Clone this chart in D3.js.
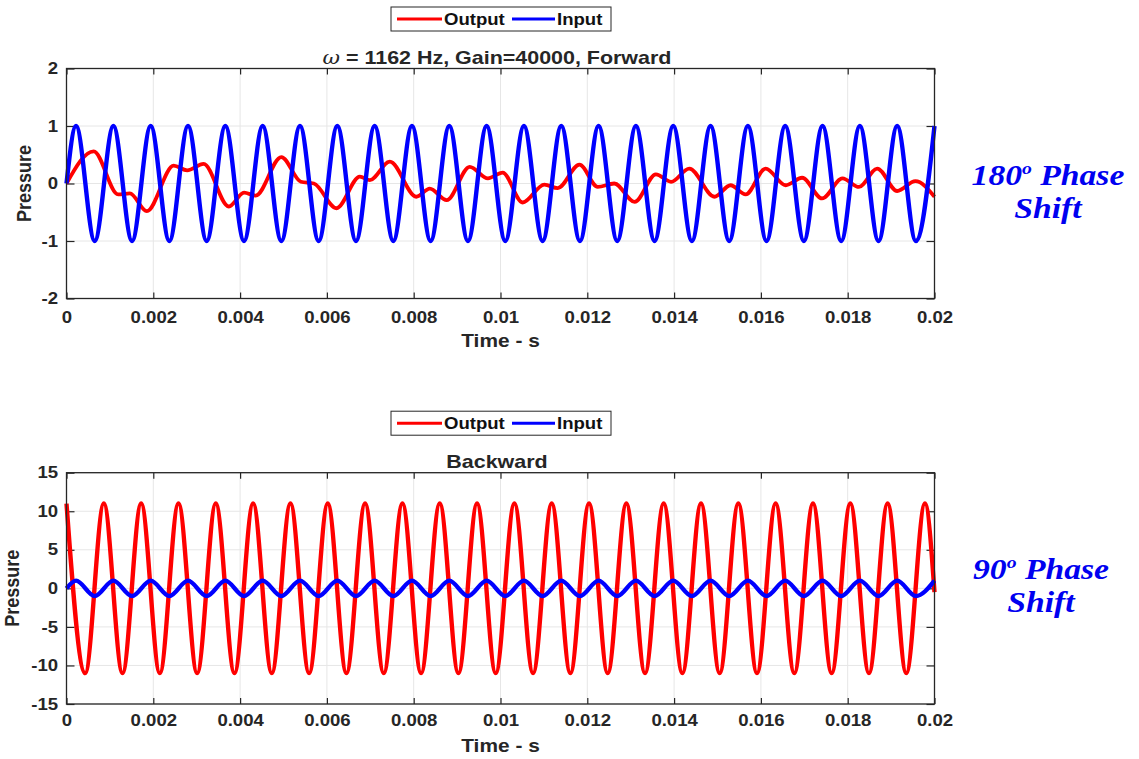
<!DOCTYPE html>
<html>
<head>
<meta charset="utf-8">
<script src="https://cdn.jsdelivr.net/npm/d3@7"></script>
<style>
body { margin: 0; background: #fff; }
</style>
</head>
<body>
<svg width="1139" height="759"></svg>
<script>
var timeTicks = [0, 0.002, 0.004, 0.006, 0.008, 0.01, 0.012, 0.014, 0.016, 0.018, 0.02];
var forwardYTicks = [-2, -1, 0, 1, 2];
var backwardYTicks = [-15, -10, -5, 0, 5, 10, 15];
var legendNames = ["Output", "Input"];

// input signal, same in both panels: times of crests and troughs (amplitude 1)
var inputPeakT = [0.00022, 0.00108, 0.00194, 0.0028, 0.00366, 0.00452, 0.00538, 0.00624,
	0.0071, 0.00796, 0.00882, 0.00968, 0.01054, 0.0114, 0.01226, 0.01312, 0.01398, 0.01484,
	0.0157, 0.01656, 0.01742, 0.01828, 0.01914, 0.02];
var inputTroughT = [0.00065, 0.00151, 0.00237, 0.00323, 0.00409, 0.00495, 0.00581, 0.00667,
	0.00753, 0.00839, 0.00925, 0.01011, 0.01097, 0.01183, 0.01269, 0.01355, 0.01441, 0.01527,
	0.01613, 0.01699, 0.01785, 0.01871, 0.01957];
var inputAmp = 1;

// forward output: turning points
var fwdOutT = [0, 0.000626, 0.00119, 0.00146, 0.00185, 0.00247, 0.00278, 0.00316, 0.00374,
	0.00409, 0.00436, 0.00495, 0.0054, 0.0057, 0.00622, 0.00676, 0.00699, 0.00745, 0.00806,
	0.00837, 0.00876, 0.00929, 0.00971, 0.01005, 0.01051, 0.01101, 0.01132, 0.01182, 0.01224,
	0.01262, 0.01309, 0.01358, 0.01393, 0.01435, 0.01493, 0.0153, 0.01565, 0.01611, 0.01657,
	0.01695, 0.01741, 0.01788, 0.01826, 0.01868, 0.01914, 0.01956, 0.02];
var fwdOutV = [0, 0.56, -0.19, -0.17, -0.48, 0.31, 0.23, 0.34, -0.40,
	-0.16, -0.21, 0.46, 0.03, 0.0, -0.43, 0.12, 0.06, 0.38, -0.23,
	-0.09, -0.29, 0.29, 0.09, 0.19, -0.33, -0.02, -0.08, 0.33, -0.06,
	0.0, -0.32, 0.16, 0.03, 0.26, -0.23, -0.03, -0.19, 0.26, -0.03,
	0.10, -0.26, 0.09, -0.06, 0.26, -0.13, 0.04, -0.23];

// backward output: crests and troughs (amplitude 11), ends near zero
var bwdOutPeakT = [0, 0.00086, 0.00172, 0.00258, 0.00344, 0.0043, 0.00516, 0.00602, 0.00688,
	0.00774, 0.0086, 0.00946, 0.01032, 0.01118, 0.01204, 0.0129, 0.01376, 0.01462, 0.01548,
	0.01634, 0.0172, 0.01806, 0.01892, 0.01978];
var bwdOutTroughT = [0.00043, 0.00129, 0.00215, 0.00301, 0.00387, 0.00473, 0.00559, 0.00645,
	0.00731, 0.00817, 0.00903, 0.00989, 0.01075, 0.01161, 0.01247, 0.01333, 0.01419, 0.01505,
	0.01591, 0.01677, 0.01763, 0.01849, 0.01935];
var bwdOutAmp = 11;
var bwdOutEndV = -0.5;

var SX = 1.16;   // the picture is stretched sideways a bit
var FONT = "'Liberation Sans', Arial, sans-serif";
var INK = "#262626";

var svg = d3.select("svg");
var x0 = 66.5, x1 = 934.5;

function extremaSeries(peaks, troughs, amp, startV, endV) {
	var pts = peaks.map(function (t) { return {t: t, v: amp}; })
		.concat(troughs.map(function (t) { return {t: t, v: -amp}; }));
	if (peaks[0] !== 0 && troughs[0] !== 0) pts.push({t: 0, v: startV});
	var last = Math.max(d3.max(peaks), d3.max(troughs));
	if (last < 0.02) pts.push({t: 0.02, v: endV});
	return pts.sort(function (a, b) { return a.t - b.t; });
}

function stext(parent, x, y, str, size, anchor) {
	return parent.append("g")
		.attr("transform", "translate(" + x + "," + y + ") scale(" + SX + ",1)")
		.append("text")
		.attr("text-anchor", anchor || "middle")
		.attr("font-family", FONT)
		.attr("font-weight", "bold")
		.attr("font-size", size)
		.attr("fill", INK)
		.text(str);
}

function drawPanel(p) {
	var x = d3.scaleLinear().domain([0, 0.02]).range([x0, x1]);
	var y = d3.scaleLinear().domain(p.yDomain).range([p.bottom, p.top]);
	var g = svg.append("g");

	// grid
	g.selectAll(".vgrid").data(timeTicks).enter().append("line")
		.attr("x1", x).attr("x2", x)
		.attr("y1", p.top).attr("y2", p.bottom)
		.attr("stroke", "#e6e6e6").attr("stroke-width", 1);
	g.selectAll(".hgrid").data(p.yTicks).enter().append("line")
		.attr("x1", x0).attr("x2", x1)
		.attr("y1", y).attr("y2", y)
		.attr("stroke", "#e6e6e6").attr("stroke-width", 1);

	// axes, ticks point inward
	var xb = g.append("g").attr("transform", "translate(0," + p.bottom + ")")
		.call(d3.axisBottom(x).tickValues(timeTicks).tickSizeInner(-6).tickSizeOuter(0)
			.tickPadding(p.xPad).tickFormat(function (d) { return String(d); }));
	var xt = g.append("g").attr("transform", "translate(0," + p.top + ")")
		.call(d3.axisTop(x).tickValues(timeTicks).tickSizeInner(-6).tickSizeOuter(0).tickFormat(""));
	var yl = g.append("g").attr("transform", "translate(" + x0 + ",0)")
		.call(d3.axisLeft(y).tickValues(p.yTicks).tickSizeInner(-8).tickSizeOuter(0).tickPadding(7.3)
			.tickFormat(function (d) { return String(d); }));
	var yr = g.append("g").attr("transform", "translate(" + x1 + ",0)")
		.call(d3.axisRight(y).tickValues(p.yTicks).tickSizeInner(-8).tickSizeOuter(0).tickFormat(""));

	[xb, xt, yl, yr].forEach(function (a) {
		a.select(".domain").remove();
		a.selectAll("line").attr("stroke", INK).attr("stroke-width", 1.2);
		a.attr("font-family", FONT).attr("font-size", 16).attr("font-weight", "bold");
		a.selectAll("text").attr("fill", INK).attr("transform", "scale(" + SX + ",1)");
	});

	// series: output first, input drawn on top
	var line = d3.line()
		.x(function (d) { return x(d.t); })
		.y(function (d) { return y(d.v); })
		.curve(d3.curveMonotoneX);
	g.append("path").datum(p.output)
		.attr("d", line).attr("fill", "none")
		.attr("stroke", "#ff0000").attr("stroke-width", p.redWidth)
		.attr("stroke-linejoin", "round");
	g.append("path").datum(p.input)
		.attr("d", line).attr("fill", "none")
		.attr("stroke", "#0000ff").attr("stroke-width", 4.4)
		.attr("stroke-linejoin", "round");

	// box
	g.append("rect")
		.attr("x", x0).attr("y", p.top)
		.attr("width", x1 - x0).attr("height", p.bottom - p.top)
		.attr("fill", "none").attr("stroke", INK).attr("stroke-width", 1.3);

	// labels
	stext(g, (x0 + x1) / 2, p.bottom + 48, "Time - s", 18);
	g.append("g")
		.attr("transform", "translate(" + p.yLabelX + "," + ((p.top + p.bottom) / 2) + ") scale(" + SX + ",1) rotate(-90)")
		.append("text")
		.attr("text-anchor", "middle")
		.attr("font-family", FONT).attr("font-weight", "bold").attr("font-size", 18)
		.attr("fill", INK)
		.text("Pressure");

	var t = stext(g, 497, p.top - 5, "", 18.5);
	if (p.omega) {
		t.append("tspan").attr("font-family", "'DejaVu Serif', serif")
			.attr("font-style", "italic").attr("font-weight", "normal").text("\u03c9");
	}
	t.append("tspan").text(p.title);

	// legend
	var ly = p.top - 61.5;
	var lg = g.append("g");
	lg.append("rect").attr("x", 391).attr("y", ly).attr("width", 220).attr("height", 24)
		.attr("fill", "#fff").attr("stroke", INK).attr("stroke-width", 1);
	var lx = [[397, 442, 444], [512, 555, 557]];
	var lc = ["#ff0000", "#0000ff"];
	legendNames.forEach(function (name, i) {
		lg.append("line").attr("x1", lx[i][0]).attr("x2", lx[i][1])
			.attr("y1", ly + 12).attr("y2", ly + 12)
			.attr("stroke", lc[i]).attr("stroke-width", 3);
		stext(lg, lx[i][2], ly + 18, name, 16, "start").attr("fill", "#111");
	});

	// side note
	var note = svg.append("g")
		.attr("transform", "translate(" + p.noteX + "," + p.noteY + ") scale(" + SX + ",1)")
		.attr("font-family", "'Liberation Serif', 'Times New Roman', serif")
		.attr("font-weight", "bold").attr("font-style", "italic")
		.attr("font-size", 29).attr("fill", "#0000f0")
		.attr("text-anchor", "middle");
	var l1 = note.append("text");
	l1.append("tspan").text(p.noteDeg);
	l1.append("tspan").attr("font-size", 17).attr("dy", -11).text("o");
	l1.append("tspan").attr("dy", 11).text(" Phase");
	note.append("text").attr("y", 33).text("Shift");
}

drawPanel({
	top: 68.5, bottom: 298.5, yDomain: [-2, 2], yTicks: forwardYTicks,
	omega: true, title: " = 1162 Hz, Gain=40000, Forward",
	yLabelX: 31, redWidth: 3.8, xPad: 13,
	input: extremaSeries(inputPeakT, inputTroughT, inputAmp, 0, 0),
	output: fwdOutT.map(function (t, i) { return {t: t, v: fwdOutV[i]}; }),
	noteX: 1048, noteY: 185, noteDeg: "180"
});

drawPanel({
	top: 472.7, bottom: 704, yDomain: [-15, 15], yTicks: backwardYTicks,
	omega: false, title: "Backward",
	yLabelX: 19, redWidth: 4.4, xPad: 11,
	input: extremaSeries(inputPeakT, inputTroughT, inputAmp, 0, 0),
	output: extremaSeries(bwdOutPeakT, bwdOutTroughT, bwdOutAmp, bwdOutAmp, bwdOutEndV),
	noteX: 1041, noteY: 579, noteDeg: "90"
});
</script>
</body>
</html>
